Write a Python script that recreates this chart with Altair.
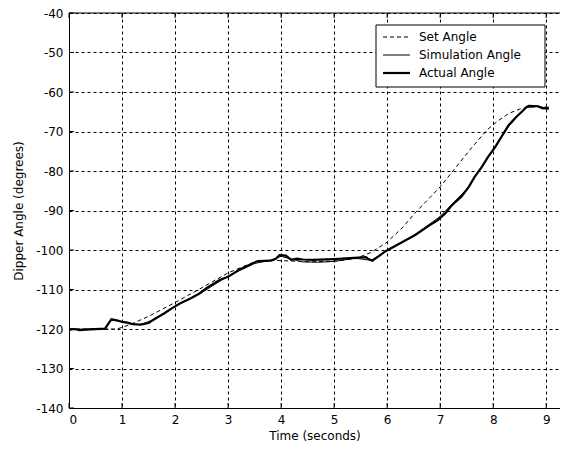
import altair as alt
import pandas as pd

# ---- data ----
set_t = [0, 0.5, 0.9, 1.0, 1.2, 1.5, 2.0, 2.5, 3.0, 3.5, 3.8, 4.2, 4.6, 5.0, 5.4,
         5.7, 6.0, 6.3, 6.5, 6.8, 7.0, 7.3, 7.6, 7.9, 8.1, 8.3, 8.5, 8.7, 9.05]
set_v = [-120, -120, -120, -119.6, -118.6, -116.8, -113.3, -109.6, -105.8, -103.0, -102.6,
         -102.8, -103.0, -102.8, -102.2, -100.6, -98.0, -94.2, -91.0, -86.8, -84.0, -79.0,
         -74.0, -69.4, -67.2, -65.4, -64.3, -63.8, -63.8]

act_t = [0, 0.1, 0.2, 0.4, 0.68, 0.75, 0.8, 0.9, 1.0, 1.1, 1.2, 1.35, 1.5, 1.6, 1.8, 1.96,
         2.1, 2.3, 2.46, 2.6, 2.84, 3.0, 3.21, 3.4, 3.56, 3.81, 3.9, 3.97, 4.09, 4.19, 4.3,
         4.41, 4.6, 5.0, 5.38, 5.6, 5.65, 5.72, 5.85, 5.97, 6.22, 6.53, 6.79, 6.95, 7.1,
         7.2, 7.29, 7.4, 7.54, 7.65, 7.79, 7.9, 8.04, 8.17, 8.29, 8.42, 8.54, 8.62, 8.67,
         8.85, 8.92, 9.05]
act_v = [-120.2, -120.0, -120.3, -120.1, -119.9, -118.5, -117.5, -117.8, -118.2, -118.4,
         -118.8, -118.9, -118.5, -117.6, -116.0, -114.6, -113.5, -112.2, -111.0, -109.6,
         -107.6, -106.8, -105.0, -103.8, -102.8, -102.7, -102.2, -101.3, -101.4, -102.5,
         -102.2, -102.4, -102.5, -102.3, -102.0, -101.8, -102.3, -102.7, -101.5, -100.3,
         -98.5, -96.2, -93.8, -92.5, -90.7, -89.0, -87.8, -86.5, -84.0, -81.5, -78.9, -76.5,
         -73.9, -71.0, -68.4, -66.5, -65.0, -63.9, -63.5, -63.6, -64.1, -64.2]

sim_t = [0, 0.4, 0.68, 0.78, 0.9, 1.1, 1.35, 1.6, 2.0, 2.5, 3.0, 3.5, 3.8, 4.0, 4.2, 4.4,
         4.7, 5.0, 5.4, 5.7, 6.0, 6.5, 7.0, 7.5, 8.0, 8.3, 8.6, 8.8, 9.05]
sim_v = [-120.1, -120.0, -119.9, -117.8, -117.9, -118.4, -118.9, -117.6, -114.2, -110.8,
         -106.6, -103.4, -102.6, -101.6, -102.3, -103.0, -103.1, -102.9, -102.1, -102.6,
         -100.2, -96.4, -91.5, -84.6, -74.6, -68.6, -64.0, -63.6, -64.1]

legend_labels = ["Set Angle", "Simulation Angle", "Actual Angle"]

x_ticks = list(range(0, 10))
y_ticks = list(range(-140, -39, 10))

W, H = 491, 395
FONT = "DejaVu Sans"

xs = alt.Scale(domain=[0, 9.26], nice=False, zero=False)
ys = alt.Scale(domain=[-140, -40], nice=False, zero=False)

set_df = pd.DataFrame({"t": set_t, "v": set_v})
act_df = pd.DataFrame({"t": act_t, "v": act_v})
sim_df = pd.DataFrame({"t": sim_t, "v": sim_v})

lab_expr = "toString(datum.value)"
x_axis = alt.Axis(values=x_ticks, labelExpr=lab_expr, grid=True,
                  titlePadding=5, labelOverlap=False)
y_axis = alt.Axis(values=y_ticks, labelExpr=lab_expr, grid=True,
                  titlePadding=10, labelOverlap=False)
x_enc = alt.X("t:Q", scale=xs, title="Time (seconds)", axis=x_axis)
y_enc = alt.Y("v:Q", scale=ys, title="Dipper Angle (degrees)", axis=y_axis)

set_line = alt.Chart(set_df).mark_line(color="black", strokeWidth=1, strokeDash=[4, 3]).encode(
    x=x_enc, y=y_enc, order="t:Q")
sim_line = alt.Chart(sim_df).mark_line(color="black", strokeWidth=1).encode(
    x=x_enc, y=y_enc, order="t:Q")
act_line = alt.Chart(act_df).mark_line(color="black", strokeWidth=2.2).encode(
    x=x_enc, y=y_enc, order="t:Q")

# frame top border and inward ticks
one = pd.DataFrame({"a": [0]})
top_border = alt.Chart(one).mark_rule(color="black", strokeWidth=1).encode(
    x=alt.value(0), x2=alt.value(W), y=alt.value(0))

xt_df = pd.DataFrame({"t": x_ticks})
yt_df = pd.DataFrame({"v": y_ticks})
bottom_ticks = alt.Chart(xt_df).mark_rule(color="black").encode(
    x=x_enc, y=alt.value(H), y2=alt.value(H - 5))
top_ticks = alt.Chart(xt_df).mark_rule(color="black").encode(
    x=x_enc, y=alt.value(0), y2=alt.value(5))
left_ticks = alt.Chart(yt_df).mark_rule(color="black").encode(
    y=y_enc, x=alt.value(0), x2=alt.value(5))

# legend box
LX0, LX1, LY0, LY1 = 307, 476, 12, 74
legend_box = alt.Chart(one).mark_rect(fill="white", stroke="black", strokeWidth=1).encode(
    x=alt.value(LX0), x2=alt.value(LX1), y=alt.value(LY0), y2=alt.value(LY1))

legend_layers = []
styles = [dict(strokeWidth=1, strokeDash=[4, 3]), dict(strokeWidth=1), dict(strokeWidth=2.2)]
for i, (lab, st) in enumerate(zip(legend_labels, styles)):
    ry = 24 + 18 * i
    legend_layers.append(alt.Chart(one).mark_rule(color="black", **st).encode(
        x=alt.value(314), x2=alt.value(341), y=alt.value(ry)))
    legend_layers.append(alt.Chart(pd.DataFrame({"label": [lab]})).mark_text(
        align="left", baseline="middle", font=FONT, fontSize=12, color="black").encode(
        x=alt.value(350), y=alt.value(ry), text="label:N"))

chart = alt.layer(
    set_line, sim_line, act_line, top_border, bottom_ticks, top_ticks, left_ticks,
    legend_box, *legend_layers
).properties(
    width=W, height=H,
    autosize=alt.AutoSizeParams(type="none"),
    padding={"left": 61, "top": 5, "right": 0, "bottom": 34},
    background="white",
).configure_view(
    stroke=None
).configure_axis(
    domainColor="black", domainWidth=1,
    gridColor="black", gridDash=[3, 3], gridOpacity=1, gridWidth=1,
    tickSize=0, labelPadding=6,
    labelFont=FONT, labelFontSize=12, labelColor="black",
    titleFont=FONT, titleFontSize=12, titleFontWeight="normal", titleColor="black",
)

chart.save("out.html", embed_options={"renderer": "svg", "actions": False})
